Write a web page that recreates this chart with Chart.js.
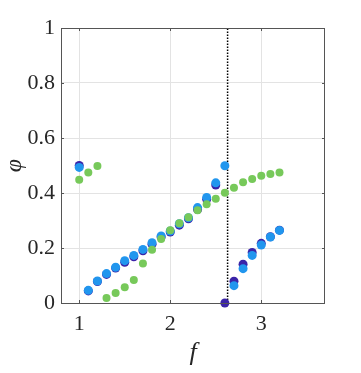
<!DOCTYPE html>
<html>
<head>
<meta charset="utf-8">
<script src="https://cdn.jsdelivr.net/npm/chart.js@4/dist/chart.umd.min.js"></script>
<style>
  html, body { margin: 0; padding: 0; background: #fff; }
  #chart { display: block; }
</style>
</head>
<body>
<canvas id="chart" width="361" height="373"></canvas>
<script>
// frequences f
const fValues = [1.0, 1.1, 1.2, 1.3, 1.4, 1.5, 1.6, 1.7, 1.8, 1.9, 2.0, 2.1,
                 2.2, 2.3, 2.4, 2.5, 2.6, 2.7, 2.8, 2.9, 3.0, 3.1, 3.2];
// phi pour chaque serie
const phiPurple = [0.500, 0.044, 0.078, 0.104, 0.127, 0.148, 0.168, 0.190, 0.214, 0.240, 0.258, 0.283,
                   0.306, 0.340, 0.377, 0.429, 0.000, 0.079, 0.141, 0.184, 0.217, 0.241, 0.265];
const phiBlue = [0.493, 0.046, 0.080, 0.107, 0.130, 0.154, 0.173, 0.195, 0.219, 0.244, 0.262, 0.288,
                 0.310, 0.347, 0.384, 0.437, 0.499, 0.063, 0.125, 0.173, 0.211, 0.240, 0.264];
const phiGreen = [0.448, 0.475, 0.498, 0.018, 0.036, 0.057, 0.084, 0.144, 0.194, 0.233, 0.265, 0.290,
                  0.312, 0.337, 0.359, 0.379, 0.401, 0.419, 0.439, 0.451, 0.463, 0.469, 0.475];
// ligne pointillee verticale
const fCritical = 2.63;
const xTicks = [1, 2, 3];
const yTicks = [0, 0.2, 0.4, 0.6, 0.8, 1];

const toPoints = (ys) => fValues.map((f, i) => ({ x: f, y: ys[i] }));

const serif = "'Liberation Serif', 'DejaVu Serif', serif";

// cadre + petits ticks interieurs (style matlab)
const boxPlugin = {
  id: "box",
  afterDraw(chart) {
    const { ctx, chartArea: a, scales } = chart;
    ctx.save();
    ctx.strokeStyle = "#555";
    ctx.lineWidth = 1;
    ctx.strokeRect(a.left + 0.5, a.top + 0.5, a.right - a.left - 1, a.bottom - a.top);
    const t = 3;
    xTicks.forEach((v) => {
      const px = Math.round(scales.x.getPixelForValue(v)) + 0.5;
      ctx.beginPath();
      ctx.moveTo(px, a.bottom); ctx.lineTo(px, a.bottom - t);
      ctx.moveTo(px, a.top); ctx.lineTo(px, a.top + t);
      ctx.stroke();
    });
    yTicks.forEach((v) => {
      const py = Math.round(scales.y.getPixelForValue(v)) + 0.5;
      ctx.beginPath();
      ctx.moveTo(a.left, py); ctx.lineTo(a.left + t, py);
      ctx.moveTo(a.right, py); ctx.lineTo(a.right - t, py);
      ctx.stroke();
    });
    ctx.restore();
  },
};

new Chart(document.getElementById("chart"), {
  type: "scatter",
  data: {
    datasets: [
      {
        label: "green",
        data: toPoints(phiGreen),
        backgroundColor: "#77c95a",
        borderWidth: 0,
        pointRadius: 4,
        clip: false,
      },
      {
        label: "blue",
        data: toPoints(phiBlue),
        backgroundColor: "#2196ee",
        borderWidth: 0,
        pointRadius: 4.5,
        clip: false,
      },
      {
        label: "purple",
        data: toPoints(phiPurple),
        backgroundColor: "#3a24a8",
        borderWidth: 0,
        pointRadius: 4.5,
        clip: false,
      },
      {
        label: "critical",
        type: "line",
        data: [{ x: fCritical, y: 0 }, { x: fCritical, y: 1 }],
        borderColor: "#000",
        borderWidth: 1.5,
        borderDash: [1.5, 1.5],
        pointRadius: 0,
        showLine: true,
      },
    ],
  },
  options: {
    responsive: false,
    animation: false,
    layout: { padding: { top: 28, right: 36, left: 0, bottom: 0 } },
    plugins: {
      legend: { display: false },
      tooltip: { enabled: false },
    },
    scales: {
      x: {
        type: "linear",
        min: 0.8,
        max: 3.7,
        afterBuildTicks: (scale) => { scale.ticks = xTicks.map((v) => ({ value: v })); },
        afterFit: (scale) => { scale.height = 70; },
        grid: { color: "#e3e3e3", drawTicks: false },
        border: { display: false },
        ticks: {
          color: "#262626",
          padding: 8,
          font: { family: serif, size: 22 },
          callback: (v) => String(v),
        },
        title: {
          display: true,
          text: "f",
          color: "#262626",
          padding: { top: 2 },
          font: { family: serif, size: 26, style: "italic" },
        },
      },
      y: {
        type: "linear",
        min: 0,
        max: 1,
        afterBuildTicks: (scale) => { scale.ticks = yTicks.map((v) => ({ value: v })); },
        afterFit: (scale) => { scale.width = 61; },
        grid: { color: "#e3e3e3", drawTicks: false },
        border: { display: false },
        ticks: {
          color: "#262626",
          padding: 6,
          font: { family: serif, size: 22 },
          callback: (v) => String(v),
        },
        title: {
          display: true,
          text: "φ",
          color: "#262626",
          padding: { top: 0, bottom: 0 },
          font: { family: serif, size: 24, style: "italic" },
        },
      },
    },
  },
  plugins: [boxPlugin],
});
</script>
</body>
</html>
